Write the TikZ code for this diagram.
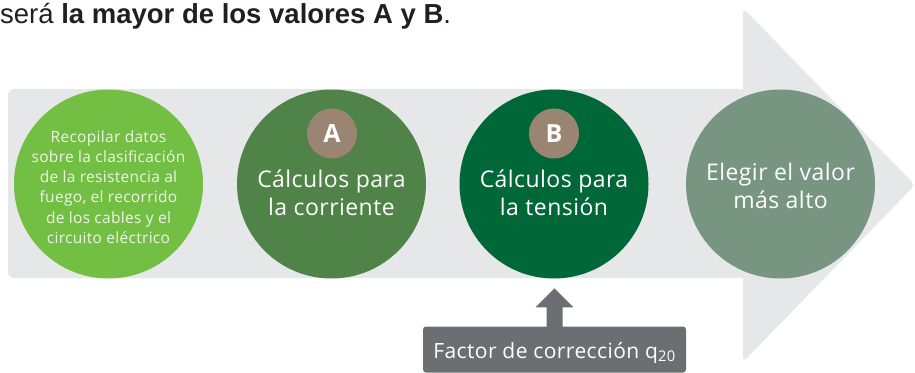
\documentclass[tikz,border=0pt]{standalone}
\usepackage{fontspec}
\setmainfont{Liberation Sans}
\newfontfamily\circfont[LetterSpace=2]{Open Sans}
\newfontfamily\badgefont{Open Sans}
\usetikzlibrary{calc}
\definecolor{bggray}{RGB}{230,231,232}
\definecolor{cgreenA}{RGB}{114,191,68}
\definecolor{cgreenB}{RGB}{80,131,72}
\definecolor{cgreenC}{RGB}{0,104,56}
\definecolor{cgreenD}{RGB}{119,149,129}
\definecolor{badgecol}{RGB}{154,132,114}
\definecolor{boxgray}{RGB}{109,110,113}
\definecolor{titlecol}{RGB}{35,31,32}
\definecolor{softwhite}{RGB}{238,245,232}
\tikzset{
  stepcircle/.style={circle, minimum size=189pt, inner sep=0pt, draw=none},
  steptext/.style={text=white, align=center, inner sep=0pt, font=\circfont\fontsize{23}{28}\selectfont},
  smalltext/.style={text=softwhite, align=center, inner sep=0pt, font=\circfont\fontsize{15.5}{20.2}\selectfont},
  badge/.style={circle, fill=badgecol, minimum size=50pt, inner sep=0pt, text=white, font=\badgefont\bfseries\fontsize{25}{25}\selectfont},
}
\begin{document}
\begin{tikzpicture}[x=1pt,y=-1pt]
\useasboundingbox (0,0) rectangle (915,372);
% big arrow
\fill[bggray, rounded corners=6pt] (743,89) -- (8,89) -- (8,278) -- (743,278) -- cycle;
\fill[bggray, rounded corners=5pt] (743,8) -- (915,185) -- (743,362) -- cycle;
\fill[bggray] (740,89) rectangle (746,278);
% title
\node[anchor=base west, inner sep=0pt, text=titlecol, font=\fontsize{27.5}{32}\selectfont] (title) at (0,23.5) {será \textbf{la mayor de los valores A y B}.};
% circles
\node[stepcircle, fill=cgreenA] (c1) at (108.5,184) {};
\node[stepcircle, fill=cgreenB] (c2) at (331.5,184) {};
\node[stepcircle, fill=cgreenC] (c3) at (554,184) {};
\node[stepcircle, fill=cgreenD] (c4) at (780.5,184) {};
\node[smalltext] (t1) at (108.5,187) {Recopilar datos\\sobre la clasificación\\de la resistencia al\\fuego, el recorrido\\de los cables y el\\circuito eléctrico};
\node[steptext] (t2) at (331.5,193) {Cálculos para\\la corriente};
\node[steptext] (t3) at (554,193) {Cálculos para\\la tensión};
\node[steptext] (t4) at (780.5,186) {Elegir el valor\\más alto};
\node[badge] (ba) at (332,133.5) {A};
\node[badge] (bb) at (554,133.5) {B};
% factor box
\node[fill=boxgray, rounded corners=3pt, minimum width=263pt, minimum height=46pt, inner sep=0pt, text height=18pt, text depth=1pt, text=white, font=\circfont\fontsize{21}{24}\selectfont] (f) at (554.5,349.5) {Factor de corrección q\textsubscript{20}};
\coordinate (tip) at ($(f.north)+(0,-38)$);
\fill[boxgray] ($(f.north)+(-8,0.5)$) -- ($(f.north)+(-8,-19)$) -- ($(f.north)+(-19,-19)$) -- (tip) -- ($(f.north)+(19,-19)$) -- ($(f.north)+(8,-19)$) -- ($(f.north)+(8,0.5)$) -- cycle;
\end{tikzpicture}
\end{document}
